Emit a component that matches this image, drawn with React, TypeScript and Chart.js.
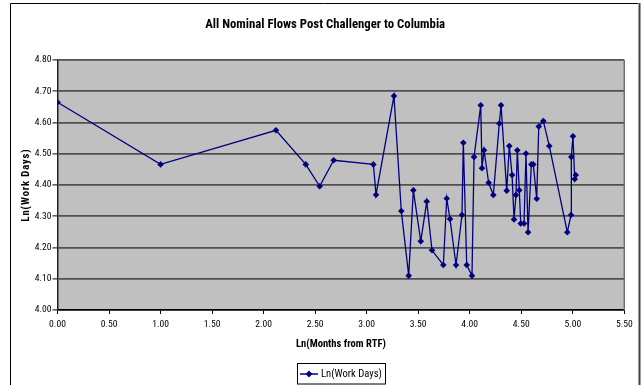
import React, { useEffect, useRef } from "react";
import { Chart, registerables } from "chart.js";

Chart.register(...registerables);

const TITLE = "All Nominal Flows Post Challenger to Columbia";
const X_TITLE = "Ln(Months from RTF)";
const Y_TITLE = "Ln(Work Days)";
const SERIES_NAME = "Ln(Work Days)";

const lnMonths = [
  0.0, 1.0, 2.12, 2.409, 2.544, 2.68, 3.065, 3.091, 3.265, 3.336, 3.408, 3.453,
  3.525, 3.583, 3.634, 3.744, 3.777, 3.809, 3.867, 3.925, 3.938, 3.971, 4.022,
  4.042, 4.107, 4.119, 4.139, 4.184, 4.229, 4.287, 4.304, 4.359, 4.384, 4.411,
  4.43, 4.449, 4.462, 4.481, 4.495, 4.527, 4.546, 4.566, 4.598, 4.617, 4.65,
  4.67, 4.714, 4.772, 4.947, 4.983, 4.986, 5.002, 5.019, 5.029,
];

const lnWorkDays = [
  4.665, 4.466, 4.575, 4.466, 4.396, 4.479, 4.466, 4.369, 4.685, 4.317, 4.11,
  4.383, 4.22, 4.347, 4.191, 4.144, 4.357, 4.291, 4.144, 4.304, 4.535, 4.144,
  4.11, 4.49, 4.655, 4.454, 4.511, 4.407, 4.368, 4.597, 4.655, 4.382, 4.525,
  4.432, 4.29, 4.368, 4.511, 4.383, 4.277, 4.277, 4.501, 4.249, 4.466, 4.466,
  4.356, 4.587, 4.605, 4.525, 4.249, 4.304, 4.49, 4.556, 4.419, 4.432,
];

const X_MIN = 0;
const X_MAX = 5.5;
const X_STEP = 0.5;
const Y_MIN = 4.0;
const Y_MAX = 4.8;
const Y_STEP = 0.1;

const FONT = "'Roboto Condensed', 'Liberation Sans', Arial, sans-serif";
const NAVY = "#000080";

function measure(text: string, weight: string, size: number): number {
  const c = document.createElement("canvas").getContext("2d")!;
  c.font = `${weight} ${size}px ${FONT}`;
  return c.measureText(text).width;
}

function fitSize(text: string, weight: string, target: number): number {
  const w = measure(text, weight, 20);
  const s = (20 * target) / w;
  return Math.max(7, Math.min(16, s));
}

export default function App() {
  const canvasRef = useRef<HTMLCanvasElement | null>(null);

  useEffect(() => {
    const canvas = canvasRef.current;
    if (!canvas) return;

    const titleSize = fitSize(TITLE, "bold", 240);
    const axisTitleSize = fitSize(X_TITLE, "bold", 90);
    const tickSize = fitSize("0.00", "normal", 16.8);
    const legendSize = fitSize(SERIES_NAME, "normal", 61);
    const yTitleW = measure(Y_TITLE, "bold", axisTitleSize);
    const yTitleSpacing = Math.max(0, (72 - yTitleW) / (Y_TITLE.length - 1));

    const framePlugin = {
      id: "frame",
      beforeDraw(chart: any) {
        const { ctx, chartArea: a, width, height } = chart;
        ctx.save();
        ctx.fillStyle = "#ffffff";
        ctx.fillRect(0, 0, width, height);
        ctx.fillStyle = "#C0C0C0";
        ctx.fillRect(a.left, a.top, a.right - a.left, a.bottom - a.top);
        ctx.strokeStyle = "#000000";
        ctx.lineWidth = 1;
        ctx.beginPath();
        ctx.moveTo(10.5, height + 2);
        ctx.lineTo(10.5, 3.5);
        ctx.lineTo(638, 3.5);
        ctx.stroke();
        ctx.strokeStyle = "#404040";
        ctx.lineWidth = 2;
        ctx.beginPath();
        ctx.moveTo(639.5, 3);
        ctx.lineTo(639.5, height + 2);
        ctx.stroke();
        ctx.restore();
      },
      beforeDatasetsDraw(chart: any) {
        const { ctx, chartArea: a } = chart;
        ctx.save();
        ctx.strokeStyle = "#707070";
        ctx.lineWidth = 1.5;
        ctx.beginPath();
        ctx.moveTo(a.right, a.top);
        ctx.lineTo(a.right, a.bottom);
        ctx.stroke();
        ctx.restore();
      },
      afterDraw(chart: any) {
        const { ctx, chartArea: a } = chart;
        ctx.save();
        ctx.translate(26, (a.top + a.bottom) / 2);
        ctx.rotate(-Math.PI / 2);
        ctx.font = `bold ${axisTitleSize}px ${FONT}`;
        (ctx as any).letterSpacing = `${yTitleSpacing.toFixed(2)}px`;
        ctx.fillStyle = "#000000";
        ctx.textAlign = "center";
        ctx.textBaseline = "middle";
        ctx.fillText(Y_TITLE, 0, 0);
        ctx.restore();

        ctx.save();
        (ctx as any).letterSpacing = "0px";
        ctx.font = `${legendSize}px ${FONT}`;
        const textX = 321;
        const tw = ctx.measureText(SERIES_NAME).width;
        const boxL = 297.5;
        const boxT = 363.5;
        const boxR = Math.round(textX + tw + 3) + 0.5;
        ctx.strokeStyle = "#000000";
        ctx.lineWidth = 1;
        ctx.strokeRect(boxL, boxT, boxR - boxL, 20.5);
        const cy = 374;
        ctx.strokeStyle = NAVY;
        ctx.lineWidth = 1.5;
        ctx.beginPath();
        ctx.moveTo(300, cy);
        ctx.lineTo(318, cy);
        ctx.stroke();
        ctx.fillStyle = NAVY;
        ctx.beginPath();
        ctx.moveTo(309, cy - 3.4);
        ctx.lineTo(312.4, cy);
        ctx.lineTo(309, cy + 3.4);
        ctx.lineTo(305.6, cy);
        ctx.closePath();
        ctx.fill();
        ctx.fillStyle = "#000000";
        ctx.textAlign = "left";
        ctx.textBaseline = "middle";
        ctx.fillText(SERIES_NAME, textX, cy);
        ctx.restore();
      },
    };

    const points = lnMonths.map((x, i) => ({ x, y: lnWorkDays[i] }));
    const chart = new Chart(canvas, {
      type: "scatter",
      data: {
        datasets: [
          {
            label: SERIES_NAME,
            data: points,
            showLine: true,
            borderColor: NAVY,
            backgroundColor: NAVY,
            borderWidth: 1.3,
            pointStyle: "rectRot",
            pointRadius: 3.3,
            pointBorderWidth: 0,
            pointBackgroundColor: NAVY,
            tension: 0,
          } as any,
        ],
      },
      options: {
        responsive: false,
        animation: false,
        events: [],
        layout: { padding: { left: 26, right: 19.7, top: 0, bottom: 30 } },
        plugins: {
          legend: { display: false },
          tooltip: { enabled: false },
          title: {
            display: true,
            text: TITLE,
            color: "#000000",
            font: { family: FONT, size: titleSize, weight: "bold", lineHeight: 1.2 },
            padding: { top: 17, bottom: 43 - titleSize * 1.2 },
          },
        },
        scales: {
          x: {
            type: "linear",
            min: X_MIN,
            max: X_MAX,
            afterFit: (scale: any) => {
              scale.height = 45;
            },
            ticks: {
              stepSize: X_STEP,
              color: "#000000",
              padding: 5,
              maxRotation: 0,
              font: { family: FONT, size: tickSize },
              callback: (v: any) => Number(v).toFixed(2),
            },
            grid: {
              drawOnChartArea: false,
              drawTicks: true,
              tickLength: 4,
              tickColor: "#000000",
              tickWidth: 1,
            },
            border: { display: true, color: "#000000", width: 1.5 },
            title: {
              display: true,
              text: X_TITLE,
              color: "#000000",
              font: { family: FONT, size: axisTitleSize, weight: "bold", lineHeight: 1.2 },
              padding: { top: 0, bottom: 4 },
            },
          },
          y: {
            type: "linear",
            min: Y_MIN,
            max: Y_MAX,
            afterFit: (scale: any) => {
              scale.width = 31.5;
            },
            ticks: {
              stepSize: Y_STEP,
              color: "#000000",
              padding: 1,
              font: { family: FONT, size: tickSize },
              callback: (v: any) => Number(v).toFixed(2),
            },
            grid: {
              drawOnChartArea: true,
              color: "#505050",
              lineWidth: 1.8,
              drawTicks: true,
              tickLength: 5,
              tickColor: "#000000",
              tickWidth: 1,
            },
            border: { display: true, color: "#222222", width: 1.5 },
          },
        },
      },
      plugins: [framePlugin],
    } as any);
    return () => chart.destroy();
  }, []);

  return (
    <div style={{ position: "absolute", left: 0, top: 0, width: 644, height: 385 }}>
      <canvas ref={canvasRef} width={644} height={385} style={{ display: "block" }} />
    </div>
  );
}
